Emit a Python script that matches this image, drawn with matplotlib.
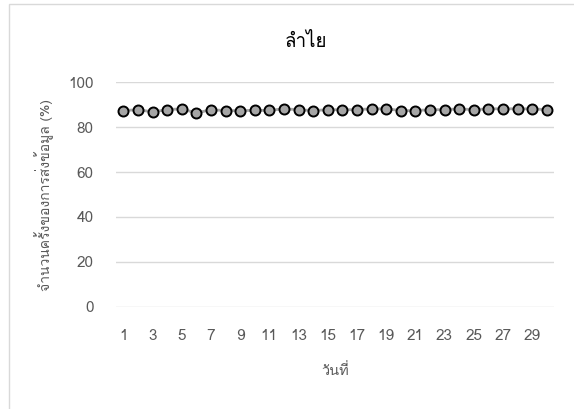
import matplotlib
matplotlib.use("Agg")
import matplotlib.pyplot as plt
from matplotlib.patches import Rectangle

days = list(range(1, 31))
percent_sent = [87.4, 87.8, 86.8, 87.8, 88.2, 86.3, 87.8, 87.4, 87.4, 87.5,
                87.5, 88.2, 87.8, 87.4, 87.8, 87.8, 87.8, 88.2, 88.2, 87.4,
                87.4, 87.8, 87.8, 88.2, 87.8, 88.2, 88.2, 88.2, 88.2, 87.8]
x_ticks = list(range(1, 30, 2))
y_ticks = [0, 20, 40, 60, 80, 100]

title = "ลำไย"
x_label = "วันที่"
y_label = "จำนวนครั้งของการส่งข้อมูล (%)"

# Loma has the Thai glyphs, DejaVu as fallback
plt.rcParams["font.family"] = ["Loma", "DejaVu Sans"]

fig = plt.figure(figsize=(5.74, 4.09), dpi=100)
ax = fig.add_axes([116 / 574, 1 - 306.7 / 409, 438 / 574, 224.4 / 409])

ax.plot(days, percent_sent, color="#a5a5a5", lw=2, marker="o", ms=7.2,
        mfc="#a5a5a5", mec="black", mew=1.4, zorder=3)

ax.set_xlim(0.5, 30.5)
ax.set_ylim(0, 100)
ax.set_xticks(x_ticks)
ax.set_yticks(y_ticks)
ax.grid(axis="y", color="#d9d9d9", lw=1)
ax.set_axisbelow(True)
for s in ax.spines.values():
    s.set_visible(False)
ax.tick_params(length=0, colors="#595959", labelsize=11)
ax.tick_params(axis="y", pad=16)
ax.tick_params(axis="x", pad=16)

fig.text(306 / 574, 1 - 42 / 409, title, ha="center", va="center",
         fontsize=13.5, color="black")
fig.text(335 / 574, 1 - 371 / 409, x_label, ha="center", va="center",
         fontsize=10.5, color="#595959")
fig.text(44 / 574, 1 - 195 / 409, y_label, ha="center", va="center",
         rotation=90, fontsize=10, color="#595959")

# chart area border, cut off on the right and bottom like the original
fig.patches.append(Rectangle((9 / 574, -0.1), 1.2, 1 - 4 / 409 + 0.1,
                             transform=fig.transFigure, fill=False,
                             ec="#d9d9d9", lw=1))

fig.savefig("out.png", dpi=100)
